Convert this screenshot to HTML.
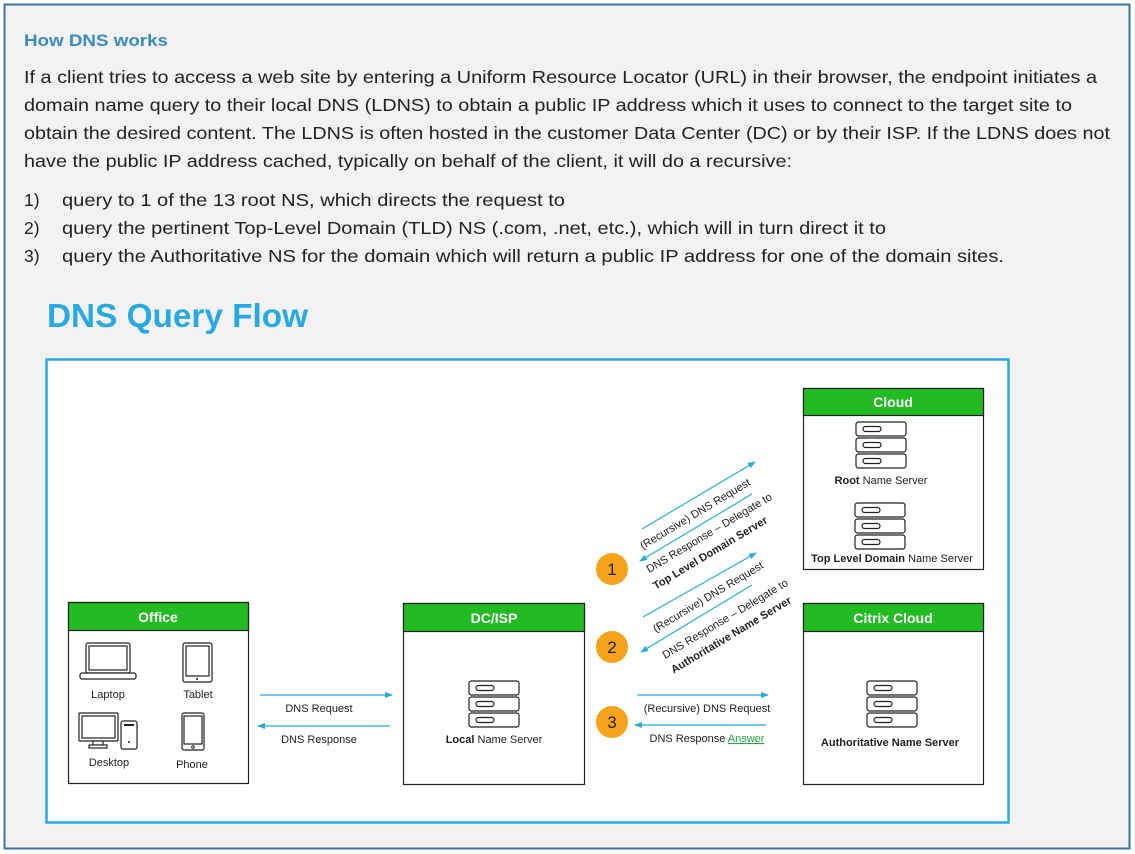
<!DOCTYPE html>
<html><head><meta charset="utf-8"><style>
html,body{margin:0;padding:0;background:#fff}
svg{display:block}
text{font-family:"Liberation Sans",sans-serif}
</style></head><body>
<svg width="1135" height="854" viewBox="0 0 1135 854" xmlns="http://www.w3.org/2000/svg">
<defs>
<marker id="ah" markerWidth="8" markerHeight="6" refX="7" refY="3" orient="auto" markerUnits="userSpaceOnUse">
<path d="M0,0 L8,3 L0,6 z" fill="#29a9e1"/></marker>
<g id="srv" fill="#fff" stroke="#222" stroke-width="1.2">
<rect x="0" y="0" width="50" height="14" rx="2.5"/><rect x="7" y="4.5" width="18" height="5" rx="2.5"/>
<rect x="0" y="16" width="50" height="14" rx="2.5"/><rect x="7" y="20.5" width="18" height="5" rx="2.5"/>
<rect x="0" y="32" width="50" height="14" rx="2.5"/><rect x="7" y="36.5" width="18" height="5" rx="2.5"/>
</g>
</defs>
<rect x="4.5" y="4.5" width="1125" height="844" fill="#f2f2f2" stroke="#41719c" stroke-width="2"/>
<text x="24" y="46" font-size="16.5" font-weight="bold" fill="#3a8cc0" textLength="144" lengthAdjust="spacingAndGlyphs">How DNS works</text>
<g font-size="17.5" fill="#222">
<text x="24" y="83" textLength="1073" lengthAdjust="spacingAndGlyphs">If a client tries to access a web site by entering a Uniform Resource Locator (URL) in their browser, the endpoint initiates a</text>
<text x="24" y="111" textLength="1048" lengthAdjust="spacingAndGlyphs">domain name query to their local DNS (LDNS) to obtain a public IP address which it uses to connect to the target site to</text>
<text x="24" y="139" textLength="1086" lengthAdjust="spacingAndGlyphs">obtain the desired content.  The LDNS is often hosted in the customer Data Center (DC) or by their ISP. If the LDNS does not</text>
<text x="24" y="167" textLength="768" lengthAdjust="spacingAndGlyphs">have the public IP address cached, typically on behalf of the client, it will do a recursive:</text>
<text x="24" y="206">1)</text><text x="62" y="206" textLength="503" lengthAdjust="spacingAndGlyphs">query to 1 of the 13 root NS, which directs the request to</text>
<text x="24" y="234">2)</text><text x="62" y="234" textLength="824" lengthAdjust="spacingAndGlyphs">query the pertinent Top-Level Domain (TLD) NS (.com, .net, etc.), which will in turn direct it to</text>
<text x="24" y="262">3)</text><text x="62" y="262" textLength="942" lengthAdjust="spacingAndGlyphs">query the Authoritative NS for the domain which will return a public IP address for one of the domain sites.</text>
</g>
<text x="47" y="327" font-size="33" font-weight="bold" fill="#29a9e1" textLength="261" lengthAdjust="spacingAndGlyphs">DNS Query Flow</text>
<rect x="46.5" y="359.5" width="962" height="463" fill="#fff" stroke="#29a9e1" stroke-width="2.5"/>

<g stroke="#222" stroke-width="1.2">
<rect x="68.5" y="602.5" width="180" height="181" fill="#fff"/><rect x="68.5" y="602.5" width="180" height="28" fill="#22bb22"/>
<rect x="403.5" y="603.5" width="181" height="181" fill="#fff"/><rect x="403.5" y="603.5" width="181" height="28" fill="#22bb22"/>
<rect x="803.5" y="388.5" width="180" height="181" fill="#fff"/><rect x="803.5" y="388.5" width="180" height="27" fill="#22bb22"/>
<rect x="803.5" y="603.5" width="180" height="181" fill="#fff"/><rect x="803.5" y="603.5" width="180" height="28" fill="#22bb22"/>
</g>
<g font-size="14" font-weight="bold" fill="#fff" text-anchor="middle">
<text x="158" y="622">Office</text><text x="494" y="623">DC/ISP</text>
<text x="893" y="407">Cloud</text><text x="893" y="623">Citrix Cloud</text>
</g>

<use href="#srv" x="469" y="681"/>
<use href="#srv" x="867" y="681"/>
<use href="#srv" x="856" y="422"/>
<use href="#srv" x="855" y="503"/>

<g font-size="11" fill="#222" text-anchor="middle">
<text x="494" y="743"><tspan font-weight="bold">Local</tspan> Name Server</text>
<text x="890" y="746" font-weight="bold">Authoritative Name Server</text>
<text x="881" y="484"><tspan font-weight="bold">Root</tspan> Name Server</text>
<text x="892" y="562"><tspan font-weight="bold">Top Level Domain</tspan> Name Server</text>
<text x="108" y="698">Laptop</text><text x="198" y="698">Tablet</text>
<text x="109" y="766">Desktop</text><text x="192" y="768">Phone</text>
<text x="319" y="712">DNS Request</text><text x="319" y="743">DNS Response</text>
<text x="707" y="712">(Recursive) DNS Request</text>
<text x="707" y="742">DNS Response <tspan fill="#22aa44" text-decoration="underline">Answer</tspan></text>
</g>

<g fill="#fff" stroke="#222" stroke-width="1.2">
<rect x="86" y="643" width="44" height="30" rx="2"/><rect x="89" y="646" width="38" height="24"/>
<rect x="80" y="673" width="56" height="6" rx="2"/>
<rect x="183" y="643" width="29" height="39" rx="2"/><rect x="186" y="646" width="23" height="30"/>
<rect x="79" y="713" width="39" height="28" rx="1"/><rect x="82" y="716" width="33" height="22"/>
<rect x="93" y="741" width="10" height="4"/><rect x="89" y="745" width="18" height="3"/>
<rect x="121" y="721" width="16" height="28" rx="2"/>
<rect x="182" y="713" width="22" height="37" rx="2"/><rect x="184" y="716" width="18" height="28"/>
</g>
<g fill="#222"><circle cx="197" cy="679" r="1"/><circle cx="129" cy="742" r="1"/><rect x="124" y="724" width="10" height="2"/></g>
<circle cx="193" cy="747" r="1.3" fill="none" stroke="#222"/>

<g stroke="#29a9e1" stroke-width="1.2" marker-end="url(#ah)">
<line x1="260" y1="695" x2="392" y2="695"/>
<line x1="390" y1="726" x2="258" y2="726"/>
<line x1="637" y1="695" x2="768" y2="695"/>
<line x1="766" y1="725" x2="635" y2="725"/>
<line x1="642" y1="529" x2="755" y2="462"/>
<line x1="752" y1="494" x2="640" y2="561"/>
<line x1="643" y1="617" x2="756" y2="553"/>
<line x1="752" y1="585" x2="641" y2="652"/>
</g>
<g font-size="11" fill="#222" text-anchor="middle">
<text transform="translate(697,517) rotate(-31)">(Recursive) DNS Request</text>
<text transform="translate(711,536) rotate(-31)">DNS Response – Delegate to</text>
<text transform="translate(712,556) rotate(-31)" font-weight="bold">Top Level Domain Server</text>
<text transform="translate(710,600) rotate(-31)">(Recursive) DNS Request</text>
<text transform="translate(727,622) rotate(-31)">DNS Response – Delegate to</text>
<text transform="translate(733,638) rotate(-31)" font-weight="bold">Authoritative Name Server</text>
</g>

<g fill="#f7a21b"><circle cx="612" cy="569" r="16"/><circle cx="612" cy="647" r="16"/><circle cx="612" cy="722" r="16"/></g>
<g font-size="17" fill="#222" text-anchor="middle">
<text x="612" y="575">1</text><text x="612" y="653">2</text><text x="612" y="728">3</text>
</g>
</svg>
</body></html>
